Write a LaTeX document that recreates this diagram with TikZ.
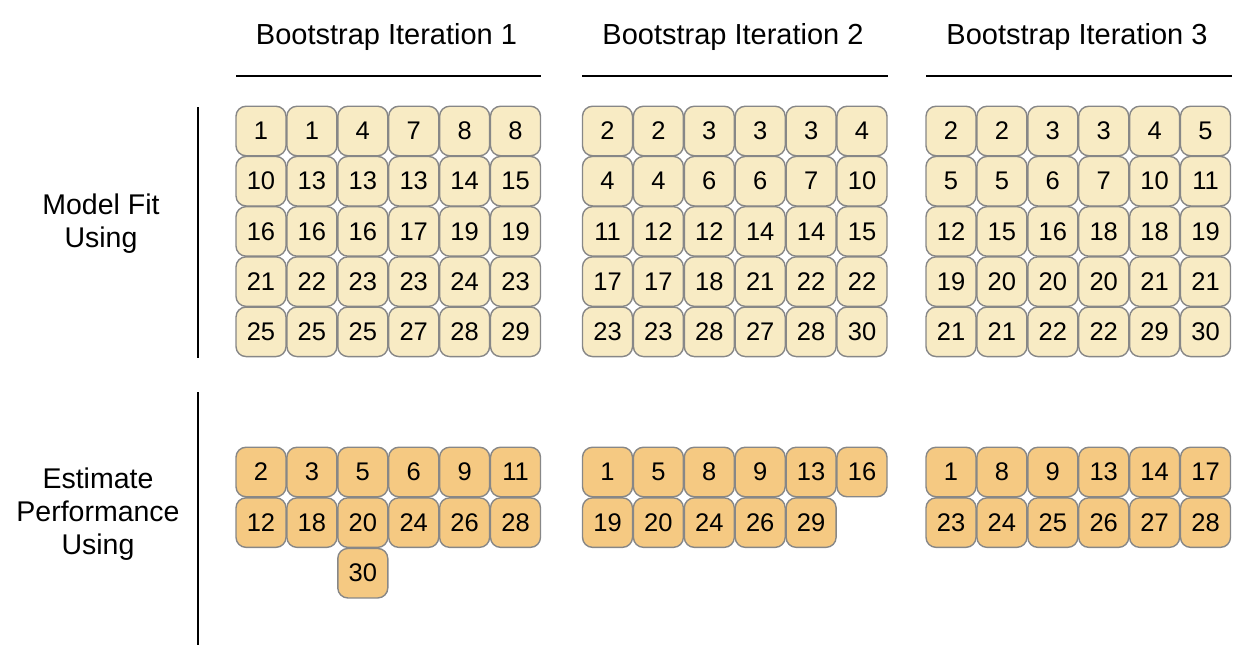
\documentclass[tikz,border=0pt]{standalone}
\usepackage{fontspec}
\setmainfont{Liberation Sans}
\definecolor{fitfill}{RGB}{248,235,196}
\definecolor{estfill}{RGB}{245,201,130}
\definecolor{cellborder}{RGB}{135,135,135}
\begin{document}
\begin{tikzpicture}[x=1pt,y=-1pt,
  cell/.style={draw=cellborder, line width=1.4pt, rounded corners=10pt,
    minimum width=50pt, minimum height=49.5pt, inner sep=0pt,
    font=\fontsize{25.5}{25.5}\selectfont},
  fitcell/.style={cell, fill=fitfill},
  estcell/.style={cell, fill=estfill},
  head/.style={font=\fontsize{29}{33}\selectfont},
  lab/.style={font=\fontsize{28.5}{33}\selectfont, align=center},
  rulerline/.style={line width=2pt, black}]
\useasboundingbox (0,0) rectangle (1250,656);

% headers
\foreach \k/\xa/\xb in {1/236/541, 2/582/888, 3/926/1232} {
  \node[head] (h\k) at ({(\xa+\xb)/2-2}, 37) {Bootstrap Iteration \k};
  \coordinate (la\k) at (\xa, 76);
  \coordinate (lb\k) at (\xb, 76);
  \draw[rulerline] (la\k) -- (lb\k);
}

% side labels and rules
\node[lab] (fitlab) at (101,224) {Model Fit\\Using};
\node[lab] (estlab) at (98,514) {Estimate\\Performance\\Using};
\coordinate (va1) at (198,107); \coordinate (vb1) at (198,358);
\coordinate (va2) at (198,392); \coordinate (vb2) at (198,645);
\draw[rulerline] (va1) -- (vb1);
\draw[rulerline] (va2) -- (vb2);

% model-fit blocks
\foreach \k/\xo/\rows in {
  1/236/{{1,1,4,7,8,8},{10,13,13,13,14,15},{16,16,16,17,19,19},{21,22,23,23,24,23},{25,25,25,27,28,29}},
  2/582.5/{{2,2,3,3,3,4},{4,4,6,6,7,10},{11,12,12,14,14,15},{17,17,18,21,22,22},{23,23,28,27,28,30}},
  3/926/{{2,2,3,3,4,5},{5,5,6,7,10,11},{12,15,16,18,18,19},{19,20,20,20,21,21},{21,21,22,22,29,30}}} {
  \foreach \row [count=\r from 0] in \rows {
    \foreach \v [count=\c from 0] in \row {
      \node[fitcell] (f\k-\r-\c) at ({\xo+25+\c*50.9}, {106+25+\r*50.2}) {\v};
    }
  }
}

% estimate blocks
\foreach \k/\xo/\rows in {
  1/236/{{2,3,5,6,9,11},{12,18,20,24,26,28}},
  2/582.5/{{1,5,8,9,13,16},{19,20,24,26,29}},
  3/926/{{1,8,9,13,14,17},{23,24,25,26,27,28}}} {
  \foreach \row [count=\r from 0] in \rows {
    \foreach \v [count=\c from 0] in \row {
      \node[estcell] (e\k-\r-\c) at ({\xo+25+\c*50.9}, {447+25+\r*50.6}) {\v};
    }
  }
}
\node[estcell] (e1-2-2) at ({236+25+2*50.9}, {447+25+2*50.6}) {30};
\end{tikzpicture}
\end{document}
